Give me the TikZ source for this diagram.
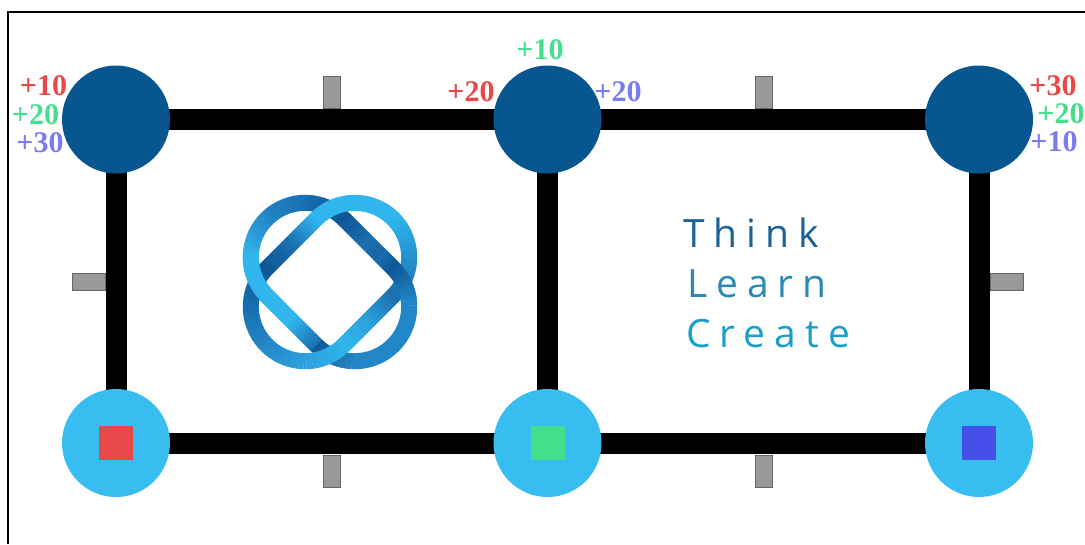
\documentclass[tikz,border=0pt]{standalone}
\usepackage{fontspec}
\setmainfont{Liberation Serif}
\newfontfamily\slogan[LetterSpace=23]{Open Sans}
\pgfdeclarelayer{bg}
\pgfsetlayers{bg,main}
\definecolor{navy}{HTML}{07568F}
\definecolor{sky}{HTML}{38BDF0}
\definecolor{lred}{HTML}{E84848}
\definecolor{lgreen}{HTML}{45DE8C}
\definecolor{lblue}{HTML}{7A7CF0}
\definecolor{sqblue}{HTML}{4650E8}
\definecolor{tickfill}{HTML}{999999}
\definecolor{tickedge}{HTML}{666666}
\definecolor{LA}{HTML}{30B5ED}
\definecolor{LB}{HTML}{2BA0DD}
\definecolor{LC}{HTML}{2287C8}
\definecolor{LD}{HTML}{1B6FB0}
\definecolor{LE}{HTML}{0E5796}
\definecolor{SA}{HTML}{1B6396}
\definecolor{SB}{HTML}{2A88B5}
\definecolor{SC}{HTML}{1A9FC9}
\tikzset{
  hub/.style={circle,fill=navy,minimum size=108pt,inner sep=0pt},
  port/.style={circle,fill=sky,minimum size=108pt,inner sep=0pt},
  rail/.style={line width=21pt,black,shorten >=-2pt,shorten <=-2pt},
  tickv/.style={rectangle,draw=tickedge,fill=tickfill,line width=1pt,minimum width=17pt,minimum height=32pt,inner sep=0pt},
  tickh/.style={rectangle,draw=tickedge,fill=tickfill,line width=1pt,minimum width=33pt,minimum height=17pt,inner sep=0pt},
  sq/.style={rectangle,minimum size=34pt,inner sep=0pt},
  lab/.style={anchor=base,inner sep=0pt,font=\fontsize{30}{30}\selectfont\bfseries},
  say/.style={anchor=base west,inner sep=0pt,font=\fontsize{39}{39}\selectfont\slogan},
  band/.style={line width=16pt,line cap=butt}
}
\newcommand{\garc}[6]{%
  \foreach \i in {1,...,30}{%
    \pgfmathsetmacro\aa{#3+(#4-#3)*(\i-1)/30}%
    \pgfmathsetmacro\ab{#3+(#4-#3)*(\i+0.25)/30}%
    \pgfmathsetmacro\pc{100*(\i-0.5)/30}%
    \pgfmathsetmacro\xa{#1+54.4*cos(\aa)}%
    \pgfmathsetmacro\ya{#2-54.4*sin(\aa)}%
    \pgfmathsetmacro\xb{#1+54.4*cos(\ab)}%
    \pgfmathsetmacro\yb{#2-54.4*sin(\ab)}%
    \draw[band,color={#6!\pc!#5}] (\xa,\ya)--(\xb,\yb);
  }}
\newcommand{\gseg}[6]{%
  \foreach \i in {1,...,16}{%
    \pgfmathsetmacro\xa{#1+(#3-#1)*(\i-1)/16}%
    \pgfmathsetmacro\ya{#2+(#4-#2)*(\i-1)/16}%
    \pgfmathsetmacro\xb{#1+(#3-#1)*(\i+0.2)/16}%
    \pgfmathsetmacro\yb{#2+(#4-#2)*(\i+0.2)/16}%
    \pgfmathsetmacro\pc{100*(\i-0.5)/16}%
    \draw[band,color={#6!\pc!#5}] (\xa,\ya)--(\xb,\yb);
  }}
\begin{document}
\begin{tikzpicture}[x=1pt,y=-1pt]
\useasboundingbox (0,0) rectangle (1085,544);
\coordinate (fa) at (8,544);
\coordinate (fb) at (8,12);
\coordinate (fc) at (1085,12);
\draw[line width=2pt,black] (fa)--(fb)--(fc);
% ticks
\node[tickv] (t1) at (331.5,92) {};
\node[tickv] (t2) at (763.5,92) {};
\node[tickv] (t3) at (331.5,471) {};
\node[tickv] (t4) at (763.5,471) {};
\node[tickh] (t5) at (88.5,281.5) {};
\node[tickh] (t6) at (1006.5,281.5) {};
% nodes
\node[hub] (a) at (116,119.5) {};
\node[hub] (b) at (547.5,119.5) {};
\node[hub] (c) at (979,119.5) {};
\node[port] (d) at (116,443) {};
\node[port] (e) at (547.5,443) {};
\node[port] (f) at (979,443) {};
\node[sq,fill=lred] (sa) at (116,443) {};
\node[sq,fill=lgreen] (sb) at (547.5,443) {};
\node[sq,fill=sqblue] (sc) at (979,443) {};
% rails
\begin{pgfonlayer}{bg}
\draw[rail] (a)--(b);
\draw[rail] (b)--(c);
\draw[rail] (d)--(e);
\draw[rail] (e)--(f);
\draw[rail] (a)--(d);
\draw[rail] (b)--(e);
\draw[rail] (c)--(f);
\end{pgfonlayer}
% labels
\node[lab,lred] (l1) at (43.5,95) {+10};
\node[lab,lgreen] (l2) at (35.5,124) {+20};
\node[lab,lblue] (l3) at (40,152) {+30};
\node[lab,lgreen] (l4) at (540,59) {+10};
\node[lab,lred] (l5) at (471,101) {+20};
\node[lab,lblue] (l6) at (618,101) {+20};
\node[lab,lred] (l7) at (1053,95) {+30};
\node[lab,lgreen] (l8) at (1061,123) {+20};
\node[lab,lblue] (l9) at (1054,151) {+10};
% slogan
\node[say,SA] (w1) at (683,247) {Think};
\node[say,SB] (w2) at (687,297) {Learn};
\node[say,SC] (w3) at (686,347) {Create};
% logo: ring 1
\garc{305.2}{257.2}{225}{180}{LA}{LA}
\garc{305.2}{257.2}{180}{135}{LA}{LC}
\garc{305.2}{257.2}{135}{45}{LC}{LE}
\gseg{343.67}{218.73}{368.47}{243.53}{LE}{LD}
\gseg{368.47}{243.53}{393.27}{268.33}{LD}{LE}
\garc{354.8}{306.8}{45}{0}{LE}{LC}
\garc{354.8}{306.8}{0}{-90}{LC}{LC}
\garc{354.8}{306.8}{-90}{-135}{LC}{LE}
\gseg{316.33}{345.27}{291.53}{320.47}{LD}{LA}
\gseg{291.53}{320.47}{266.73}{295.67}{LA}{LA}
% logo: ring 2
\garc{354.8}{257.2}{135}{45}{LA}{LA}
\garc{354.8}{257.2}{45}{-45}{LA}{LD}
\gseg{393.27}{295.67}{368.47}{320.47}{LD}{LB}
\gseg{368.47}{320.47}{343.67}{345.27}{LB}{LA}
\garc{305.2}{306.8}{-45}{-90}{LA}{LB}
\garc{305.2}{306.8}{-90}{-135}{LB}{LC}
\garc{305.2}{306.8}{-135}{-225}{LC}{LE}
\gseg{266.73}{268.33}{291.53}{243.53}{LE}{LD}
\gseg{291.53}{243.53}{316.33}{218.73}{LD}{LA}
% logo: ring 1 passes over at the left and right crossings
\gseg{280}{309}{266.73}{295.67}{LA}{LA}
\garc{305.2}{257.2}{225}{175}{LA}{LA}
\gseg{380}{255}{393.27}{268.33}{LD}{LE}
\garc{354.8}{306.8}{45}{5}{LE}{LC}
\end{tikzpicture}
\end{document}
